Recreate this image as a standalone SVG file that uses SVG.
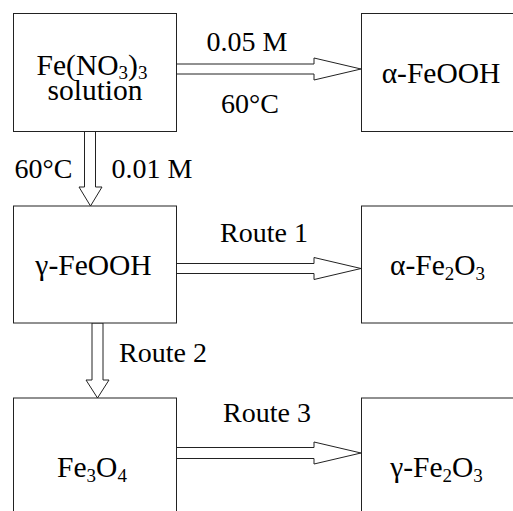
<svg xmlns="http://www.w3.org/2000/svg" width="513" height="511" viewBox="0 0 513 511">
<style>
.box{fill:#fff;stroke:#222;stroke-width:1}
.arr{fill:#fff;stroke:#222;stroke-width:1;stroke-linejoin:miter}
text{font-family:"Liberation Serif","Times New Roman",serif;font-size:28px;fill:#000;text-anchor:middle}
.n{font-size:29.5px}
.s{font-size:19px}
</style>
<rect width="513" height="511" fill="#fff"/>
<g id="connectors">
<polygon class="arr" points="176.5,64 314,64 314,58 361,69 314,80 314,74 176.5,74"/>
<polygon class="arr" points="84.5,131.5 95.5,131.5 95.5,187 102,187 90.5,206 79,187 84.5,187"/>
<polygon class="arr" points="176.5,263.5 314,263.5 314,257.5 361,268.5 314,279.5 314,273.5 176.5,273.5"/>
<polygon class="arr" points="92,323 103,323 103,380 109,380 97.5,398 86,380 92,380"/>
<polygon class="arr" points="176.5,447.5 314,447.5 314,442 361,453 314,464 314,458.5 176.5,458.5"/>
<text x="247" y="51">0.05 M</text>
<text x="250" y="113">60°C</text>
<text x="43.5" y="178">60°C</text>
<text x="152" y="178">0.01 M</text>
<text x="264" y="242">Route 1</text>
<text x="163" y="362">Route 2</text>
<text x="267" y="422">Route 3</text>
</g>
<g id="n1">
<rect class="box" x="13.5" y="13.5" width="163" height="118"/>
<text class="n" x="92" y="75">Fe(NO<tspan class="s" dy="4">3</tspan><tspan dy="-4">)</tspan><tspan class="s" dy="4">3</tspan></text>
<text class="n" x="95" y="100">solution</text>
</g>
<g id="n2">
<rect class="box" x="361.5" y="13.5" width="200" height="118"/>
<text class="n" x="441" y="83">α-FeOOH</text>
</g>
<g id="n3">
<rect class="box" x="13.5" y="206" width="163" height="117"/>
<text class="n" x="93.5" y="275">γ-FeOOH</text>
</g>
<g id="n4">
<rect class="box" x="361.5" y="206" width="200" height="117"/>
<text class="n" x="437.5" y="275">α-Fe<tspan class="s" dy="5">2</tspan><tspan dy="-5">O</tspan><tspan class="s" dy="5">3</tspan></text>
</g>
<g id="n5">
<rect class="box" x="13.5" y="398" width="163" height="150"/>
<text class="n" x="92" y="477">Fe<tspan class="s" dy="5">3</tspan><tspan dy="-5">O</tspan><tspan class="s" dy="5">4</tspan></text>
</g>
<g id="n6">
<rect class="box" x="361.5" y="398" width="200" height="150"/>
<text class="n" x="436.5" y="477">γ-Fe<tspan class="s" dy="5">2</tspan><tspan dy="-5">O</tspan><tspan class="s" dy="5">3</tspan></text>
</g>
</svg>
